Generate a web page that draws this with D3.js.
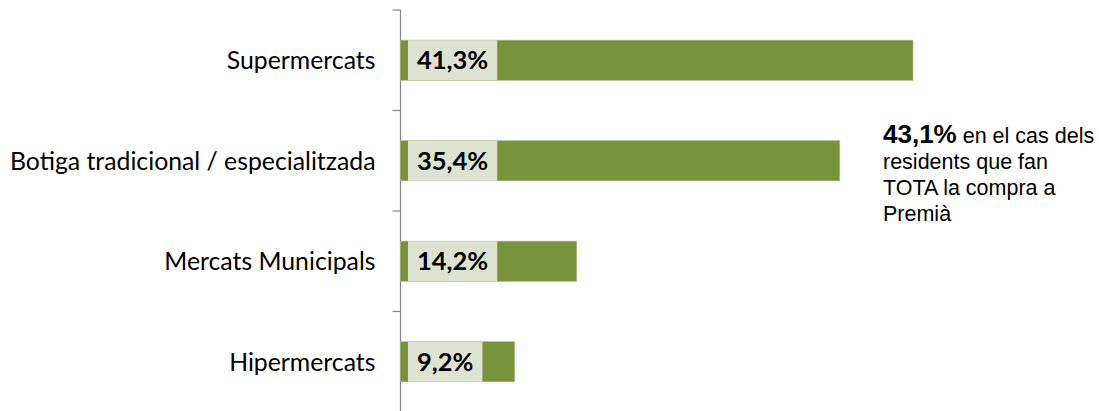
<!DOCTYPE html>
<html>
<head>
<meta charset="utf-8">
<script src="https://cdn.jsdelivr.net/npm/d3@7"></script>
<style>
  html, body { margin: 0; padding: 0; background: #fff; }
  svg { display: block; }
</style>
</head>
<body>
<svg id="chart" width="1099" height="411"></svg>
<script>
// Llocs de compra habituals (% de residents)
const categories = ["Supermercats", "Botiga tradicional / especialitzada", "Mercats Municipals", "Hipermercats"];
const values = [41.3, 35.4, 14.2, 9.2];
const valueLabels = ["41,3%", "35,4%", "14,2%", "9,2%"];
const noteLines = [["43,1%", " en el cas dels"], ["", "residents que fan"], ["", "TOTA la compra a"], ["", "Premià"]];

const svg = d3.select("#chart");
const x0 = 400.5, yTop = 10, yBottom = 412;

const x = d3.scaleLinear().domain([0, 41.3]).range([x0, 913]);
const y = d3.scaleBand().domain(categories).range([yTop, yBottom]).paddingInner(0.6).paddingOuter(0.3);

// eix vertical amb marques entre categories
const gAxis = svg.append("g").attr("transform", `translate(${x0},0)`);
gAxis.append("line").attr("x1", 0).attr("x2", 0).attr("y1", yTop).attr("y2", yBottom)
  .attr("stroke", "#868686").attr("stroke-width", 1.2);
const bounds = d3.range(categories.length + 1).map(i => yTop + i * (yBottom - yTop) / categories.length);
gAxis.selectAll("line.tick").data(bounds).join("line").attr("class", "tick")
  .attr("x1", -8).attr("x2", 0).attr("y1", d => d).attr("y2", d => d)
  .attr("stroke", "#868686").attr("stroke-width", 1.2);

// etiquetes de categoria
svg.append("g").selectAll("text").data(categories).join("text")
  .attr("x", 375.5).attr("y", d => y(d) + y.bandwidth() / 2)
  .attr("dy", "0.36em")
  .attr("text-anchor", "end")
  .attr("font-family", "Lato, 'Open Sans', sans-serif")
  .attr("font-size", 24.8)
  .attr("fill", "#000")
  .text(d => d);

// barres
svg.append("g").selectAll("rect").data(values).join("rect")
  .attr("x", x(0)).attr("y", (d, i) => y(categories[i]))
  .attr("width", d => x(d) - x(0)).attr("height", y.bandwidth())
  .attr("fill", "#77933c").attr("stroke", "#a9bd85").attr("stroke-width", 0.6);

// etiquetes de valor amb fons clar
const lab = svg.append("g").selectAll("g").data(values).join("g");
lab.append("text")
  .attr("x", 417).attr("y", (d, i) => y(categories[i]) + y.bandwidth() / 2)
  .attr("dy", "0.36em")
  .attr("font-family", "Lato, sans-serif").attr("font-weight", "bold")
  .attr("font-size", 25.5).attr("fill", "#000")
  .text((d, i) => valueLabels[i]);
lab.each(function() {
  const g = d3.select(this);
  const t = g.select("text");
  const w = t.node().getComputedTextLength();
  g.insert("rect", "text")
    .attr("x", 408).attr("y", +t.attr("y") - y.bandwidth() / 2)
    .attr("width", w + 18).attr("height", y.bandwidth())
    .attr("fill", "#dee2d0");
});

// nota lateral
const note = svg.append("text").attr("font-family", "'Liberation Sans', Arial, sans-serif").attr("fill", "#000");
noteLines.forEach((ln, i) => {
  const base = 142.5 + i * 26.2;
  if (ln[0]) {
    note.append("tspan").attr("x", 883).attr("y", base).attr("font-weight", "bold").attr("font-size", 26).text(ln[0]);
    note.append("tspan").attr("font-size", 21.5).text(ln[1]);
  } else {
    note.append("tspan").attr("x", 883).attr("y", base).attr("font-size", 21.5).text(ln[1]);
  }
});
</script>
</body>
</html>
